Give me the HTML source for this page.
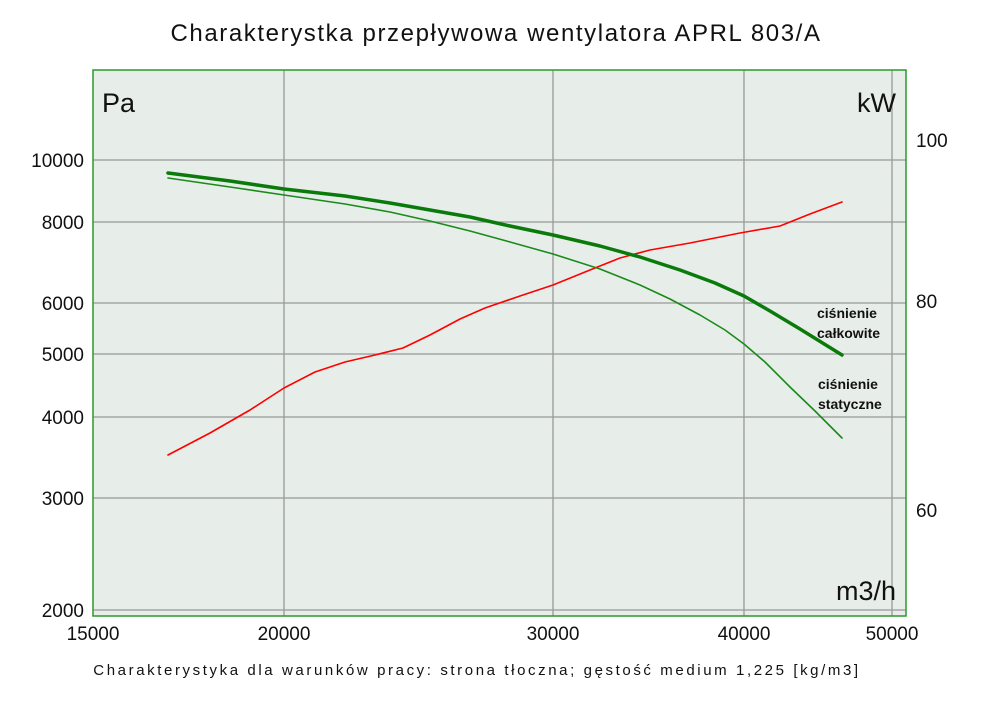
<!DOCTYPE html>
<html><head><meta charset="utf-8"><style>
html,body{margin:0;padding:0;background:#fff;}
svg{display:block;font-family:"Liberation Sans","DejaVu Sans",sans-serif;}
</style></head><body>
<svg width="1000" height="706" viewBox="0 0 1000 706" xmlns="http://www.w3.org/2000/svg">
<rect width="1000" height="706" fill="#fff"/>
<text x="496" y="41" font-size="24" letter-spacing="1.6" text-anchor="middle" fill="#111">Charakterystka przepływowa wentylatora APRL 803/A</text>
<rect x="93" y="70" width="813" height="546" fill="#e7eeea"/>
<g stroke="#999" stroke-width="1.3" fill="none">
<line x1="284" y1="70" x2="284" y2="616"/>
<line x1="553" y1="70" x2="553" y2="616"/>
<line x1="744" y1="70" x2="744" y2="616"/>
<line x1="892" y1="70" x2="892" y2="616"/>
<line x1="93" y1="160" x2="906" y2="160"/>
<line x1="93" y1="222" x2="906" y2="222"/>
<line x1="93" y1="303" x2="906" y2="303"/>
<line x1="93" y1="354" x2="906" y2="354"/>
<line x1="93" y1="417" x2="906" y2="417"/>
<line x1="93" y1="498" x2="906" y2="498"/>
<line x1="93" y1="610" x2="906" y2="610"/>
</g>
<rect x="93" y="70" width="813" height="546" fill="none" stroke="#2a9a2a" stroke-width="1.5"/>
<g font-size="19" fill="#111">
<text x="84" y="167" text-anchor="end">10000</text>
<text x="84" y="229" text-anchor="end">8000</text>
<text x="84" y="310" text-anchor="end">6000</text>
<text x="84" y="361" text-anchor="end">5000</text>
<text x="84" y="424" text-anchor="end">4000</text>
<text x="84" y="505" text-anchor="end">3000</text>
<text x="84" y="617" text-anchor="end">2000</text>
<text x="916" y="147">100</text>
<text x="916" y="308">80</text>
<text x="916" y="517">60</text>
<text x="93" y="640" text-anchor="middle">15000</text>
<text x="284" y="640" text-anchor="middle">20000</text>
<text x="553" y="640" text-anchor="middle">30000</text>
<text x="744" y="640" text-anchor="middle">40000</text>
<text x="892" y="640" text-anchor="middle">50000</text>
</g>
<text x="102" y="112" font-size="27" fill="#111">Pa</text>
<text x="896" y="112" font-size="27" fill="#111" text-anchor="end">kW</text>
<text x="896" y="600" font-size="27" fill="#111" text-anchor="end">m3/h</text>
<g fill="none" stroke-linejoin="round" stroke-linecap="round">
<polyline stroke="#ff0000" stroke-width="1.6" points="168,455 210,433 250,410 284,388 315,372 345,362 375,355 403,348 430,335 460,319 485,308 520,296 553,285 590,270 620,258 650,250 690,243 740,233 780,226 810,214 842,202"/>
<polyline stroke="#1a8a1a" stroke-width="1.6" points="168,178 230,187 284,195 345,204 390,212 430,221 470,231 510,242 553,254 600,269 640,285 670,299 700,315 725,330 744,344 765,362 790,387 815,411 842,438"/>
<polyline stroke="#0a7a0a" stroke-width="3.5" points="168,173 230,181 284,189 345,196 390,203 430,210 470,217 510,226 553,235 600,246 640,257 680,270 715,283 744,296 770,311 800,329 842,355"/>
</g>
<g font-size="14" fill="#111" font-weight="bold">
<text x="817" y="318">ciśnienie</text>
<text x="817" y="338">całkowite</text>
<text x="818" y="389">ciśnienie</text>
<text x="818" y="409">statyczne</text>
</g>
<text x="477" y="675" font-size="15" text-anchor="middle" fill="#111" letter-spacing="2.6">Charakterystyka dla warunków pracy: strona tłoczna; gęstość medium 1,225 [kg/m3]</text>
</svg>
</body></html>
